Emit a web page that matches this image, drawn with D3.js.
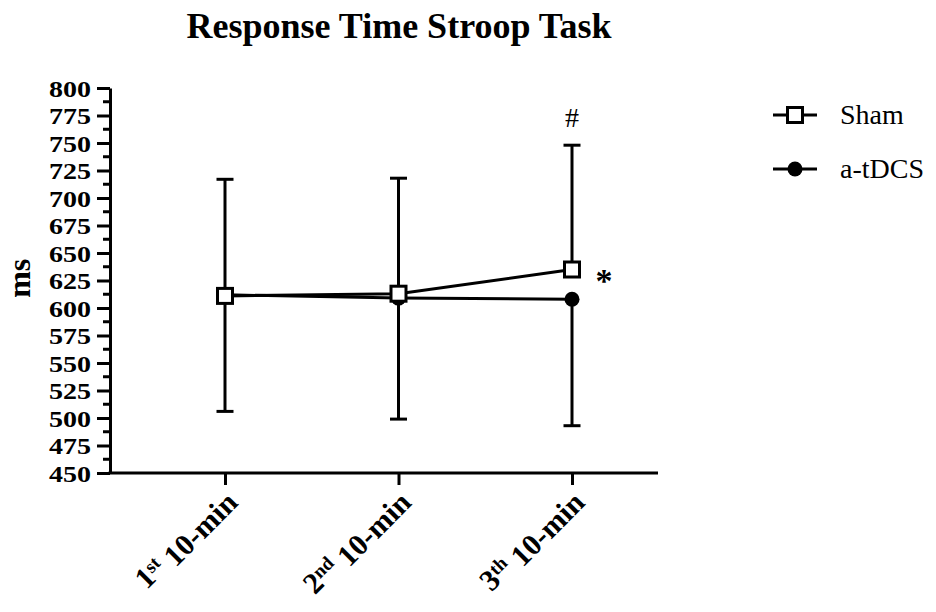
<!DOCTYPE html>
<html lang="en">
<head>
<meta charset="utf-8">
<title>Response Time Stroop Task</title>
<script src="https://cdn.jsdelivr.net/npm/d3@7"></script>
<style>
  body { margin: 0; background: #fff; }
  text { font-family: "Liberation Serif", "Times New Roman", serif; fill: #000; }
</style>
</head>
<body>
<script>
// data
const periods = ["1st", "2nd", "3th"];
const periodSup = ["st", "nd", "th"];
const periodNum = ["1", "2", "3"];
const shamMean = [611, 613, 635];
const shamSD = [106, 105, 113];
const tdcsMean = [612, 609, 608];
const tdcsSD = [106, 110, 115];
const yTicks = d3.range(450, 801, 25);

const width = 936, height = 612;
const svg = d3.select("body").append("svg")
  .attr("width", width).attr("height", height);

const axisLeftX = 110, axisRightX = 658, axisBottomY = 473;

const x = d3.scalePoint().domain(periods).range([225, 572]);
const y = d3.scaleLinear().domain([450, 800]).range([473, 88]);

// title
svg.append("text")
  .attr("x", 399).attr("y", 38)
  .attr("text-anchor", "middle")
  .style("font-size", "36px").style("font-weight", "bold")
  .text("Response Time Stroop Task");

// y axis
const gY = svg.append("g").attr("transform", `translate(${axisLeftX},0)`);
gY.call(d3.axisLeft(y).tickValues(yTicks).tickSize(13).tickPadding(6).tickSizeOuter(0))
gY.select(".domain").attr("stroke-width", 3);
gY.selectAll(".tick line").attr("stroke-width", 3);
gY.selectAll(".tick text")
  .style("font-family", "'Liberation Serif', serif")
  .style("font-size", "23.5px").style("font-weight", "bold")
  .attr("textLength", 42).attr("lengthAdjust", "spacingAndGlyphs")
  .attr("dy", "0.34em");
// minor ticks
gY.selectAll(".minor").data(d3.range(462.5, 800, 25)).enter()
  .append("line").attr("class", "minor")
  .attr("x1", -7).attr("x2", 0)
  .attr("y1", d => y(d)).attr("y2", d => y(d))
  .attr("stroke", "#000").attr("stroke-width", 3);

svg.append("text")
  .attr("transform", `translate(30,${y(627)}) rotate(-90)`)
  .attr("text-anchor", "middle")
  .style("font-size", "32px").style("font-weight", "bold")
  .text("ms");

// x axis
svg.append("line")
  .attr("x1", axisLeftX - 1.5).attr("x2", axisRightX)
  .attr("y1", axisBottomY).attr("y2", axisBottomY)
  .attr("stroke", "#000").attr("stroke-width", 3);
const gX = svg.append("g").attr("transform", `translate(0,${axisBottomY})`);
gX.call(d3.axisBottom(x).tickSize(12).tickSizeOuter(0).tickFormat(""));
gX.select(".domain").remove();
gX.selectAll(".tick line").attr("stroke-width", 3);

periods.forEach((p, i) => {
  const t = svg.append("text")
    .attr("transform", `translate(${x(p) + 11},${axisBottomY + 28}) rotate(-45)`)
    .attr("text-anchor", "end")
    .style("font-size", "30px").style("font-weight", "bold");
  t.append("tspan").text(periodNum[i]);
  t.append("tspan").attr("dy", "-0.42em").style("font-size", "19px").text(periodSup[i]);
  t.append("tspan").attr("dy", "0.42em").text(" 10-min");
});

// one-sided error bars: Sham upward, a-tDCS downward
function errorBars(means, sds, dir) {
  const g = svg.append("g").attr("stroke", "#000").attr("stroke-width", 3);
  periods.forEach((p, i) => {
    const cx = x(p), end = y(means[i] + dir * sds[i]);
    g.append("line").attr("x1", cx).attr("x2", cx).attr("y1", y(means[i])).attr("y2", end);
    g.append("line").attr("x1", cx - 8.5).attr("x2", cx + 8.5).attr("y1", end).attr("y2", end);
  });
}
errorBars(tdcsMean, tdcsSD, -1);
errorBars(shamMean, shamSD, 1);

const line = d3.line().x((d, i) => x(periods[i])).y(d => y(d));
svg.append("path").datum(tdcsMean).attr("d", line)
  .attr("fill", "none").attr("stroke", "#000").attr("stroke-width", 3);
svg.append("path").datum(shamMean).attr("d", line)
  .attr("fill", "none").attr("stroke", "#000").attr("stroke-width", 3);

svg.selectAll(".dot").data(tdcsMean).enter().append("circle")
  .attr("cx", (d, i) => x(periods[i])).attr("cy", d => y(d))
  .attr("r", 7.5).attr("fill", "#000");
svg.selectAll(".sq").data(shamMean).enter().append("rect")
  .attr("x", (d, i) => x(periods[i]) - 7.5).attr("y", d => y(d) - 7.5)
  .attr("width", 15).attr("height", 15)
  .attr("fill", "#fff").attr("stroke", "#000").attr("stroke-width", 3);

// significance marks
svg.append("text").attr("x", x("3th")).attr("y", 127)
  .attr("text-anchor", "middle").style("font-size", "28px").text("#");
svg.append("text").attr("x", 604).attr("y", 292)
  .attr("text-anchor", "middle").style("font-size", "34px").style("font-weight", "bold").text("*");

// legend
const legend = svg.append("g");
const legendItems = ["Sham", "a-tDCS"];
legendItems.forEach((name, i) => {
  const ly = 115 + i * 54;
  legend.append("line").attr("x1", 773).attr("x2", 817).attr("y1", ly).attr("y2", ly)
    .attr("stroke", "#000").attr("stroke-width", 3);
  if (i === 0) {
    legend.append("rect").attr("x", 787.5).attr("y", ly - 7.5).attr("width", 15).attr("height", 15)
      .attr("fill", "#fff").attr("stroke", "#000").attr("stroke-width", 3);
  } else {
    legend.append("circle").attr("cx", 795).attr("cy", ly).attr("r", 7.5).attr("fill", "#000");
  }
  legend.append("text").attr("x", 840).attr("y", ly + 9)
    .style("font-size", "28px").text(name);
});
</script>
</body>
</html>
